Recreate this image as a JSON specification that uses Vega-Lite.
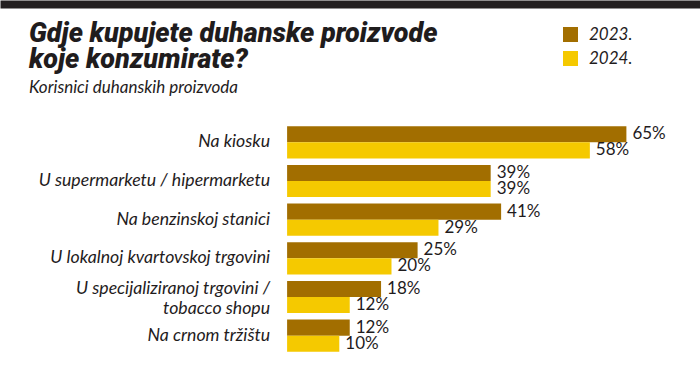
{
  "$schema": "https://vega.github.io/schema/vega-lite/v6.json",
  "autosize": {"type": "none"},
  "padding": {"left": 0, "top": 123, "right": 0, "bottom": 0},
  "width": 700,
  "height": 232,
  "background": "white",
  "title": {
    "text": ["Gdje kupujete duhanske proizvode", "koje konzumirate?"],
    "subtitle": "Korisnici duhanskih proizvoda",
    "anchor": "start",
    "frame": "group",
    "dx": 29,
    "dy": 97,
    "font": "Liberation Sans Narrow, Roboto",
    "fontSize": 27,
    "fontWeight": 900,
    "fontStyle": "italic",
    "color": "#1f1c1d",
    "lineHeight": 26,
    "subtitleFont": "Lato",
    "subtitleFontSize": 17,
    "subtitleFontStyle": "italic",
    "subtitleColor": "#1f1c1d",
    "subtitlePadding": 6
  },
  "config": {"view": {"stroke": null}},
  "data": {
    "values": [
      {"cat": "Na kiosku", "year": "2023", "value": 0.65},
      {"cat": "Na kiosku", "year": "2024", "value": 0.58},
      {"cat": "U supermarketu / hipermarketu", "year": "2023", "value": 0.39},
      {"cat": "U supermarketu / hipermarketu", "year": "2024", "value": 0.39},
      {"cat": "Na benzinskoj stanici", "year": "2023", "value": 0.41},
      {"cat": "Na benzinskoj stanici", "year": "2024", "value": 0.29},
      {"cat": "U lokalnoj kvartovskoj trgovini", "year": "2023", "value": 0.25},
      {"cat": "U lokalnoj kvartovskoj trgovini", "year": "2024", "value": 0.20},
      {"cat": "U specijaliziranoj trgovini / tobacco shopu", "year": "2023", "value": 0.18},
      {"cat": "U specijaliziranoj trgovini / tobacco shopu", "year": "2024", "value": 0.12},
      {"cat": "Na crnom tržištu", "year": "2023", "value": 0.12},
      {"cat": "Na crnom tržištu", "year": "2024", "value": 0.10}
    ]
  },
  "encoding": {
    "y": {
      "field": "cat",
      "type": "nominal",
      "sort": ["Na kiosku", "U supermarketu / hipermarketu", "Na benzinskoj stanici", "U lokalnoj kvartovskoj trgovini", "U specijaliziranoj trgovini / tobacco shopu", "Na crnom tržištu"],
      "scale": {"paddingInner": 0.17, "paddingOuter": 0.085},
      "axis": null
    }
  },
  "layer": [
    {
      "mark": {"type": "bar"},
      "encoding": {
        "x": {
          "field": "value",
          "type": "quantitative",
          "scale": {"domain": [-0.55, 0.791], "nice": false},
          "axis": {"orient": "top", "labels": false, "ticks": false, "grid": false, "title": null, "domainWidth": 8, "domainColor": "#231f20", "offset": 119, "domainCap": "butt"}
        },
        "yOffset": {"field": "year", "type": "nominal", "scale": {"paddingInner": 0, "paddingOuter": 0}},
        "color": {
          "field": "year",
          "type": "nominal",
          "scale": {"domain": ["2023", "2024"], "range": ["#A26E00", "#F5C900"]},
          "legend": {
            "orient": "none",
            "legendX": 562,
            "legendY": -97,
            "title": null,
            "symbolType": "square",
            "symbolSize": 225,
            "symbolStrokeWidth": 0,
            "symbolOpacity": 1,
            "labelFont": "Lato",
            "labelFontSize": 17,
            "labelFontStyle": "italic",
            "labelColor": "#1f1c1d",
            "labelOffset": 10,
            "rowPadding": 6,
            "labelExpr": "datum.label + '.'"
          }
        }
      }
    },
    {
      "mark": {"type": "text", "align": "left", "baseline": "middle", "dx": 6, "font": "Lato", "fontSize": 17, "color": "#1f1c1d"},
      "encoding": {
        "x": {"field": "value", "type": "quantitative"},
        "yOffset": {"field": "year", "type": "nominal"},
        "text": {"field": "value", "type": "quantitative", "format": ".0%"}
      }
    },
    {
      "data": {
        "values": [
          {"cat": "Na kiosku", "lines": ["Na kiosku"]},
          {"cat": "U supermarketu / hipermarketu", "lines": ["U supermarketu / hipermarketu"]},
          {"cat": "Na benzinskoj stanici", "lines": ["Na benzinskoj stanici"]},
          {"cat": "U lokalnoj kvartovskoj trgovini", "lines": ["U lokalnoj kvartovskoj trgovini"]},
          {"cat": "Na crnom tržištu", "lines": ["Na crnom tržištu"]}
        ]
      },
      "mark": {"type": "text", "align": "right", "baseline": "middle", "dx": -17, "font": "Lato", "fontSize": 17.7, "fontStyle": "italic", "lineHeight": 20, "color": "#1f1c1d"},
      "encoding": {
        "x": {"datum": 0, "type": "quantitative"},
        "text": {"field": "lines"}
      }
    },
    {
      "data": {
        "values": [
          {"cat": "U specijaliziranoj trgovini / tobacco shopu", "lines": ["U specijaliziranoj trgovini /", "tobacco shopu"]}
        ]
      },
      "mark": {"type": "text", "align": "right", "baseline": "middle", "dx": -17, "dy": -8, "font": "Lato", "fontSize": 17.7, "fontStyle": "italic", "lineHeight": 20, "color": "#1f1c1d"},
      "encoding": {
        "x": {"datum": 0, "type": "quantitative"},
        "text": {"field": "lines"}
      }
    }
  ]
}
